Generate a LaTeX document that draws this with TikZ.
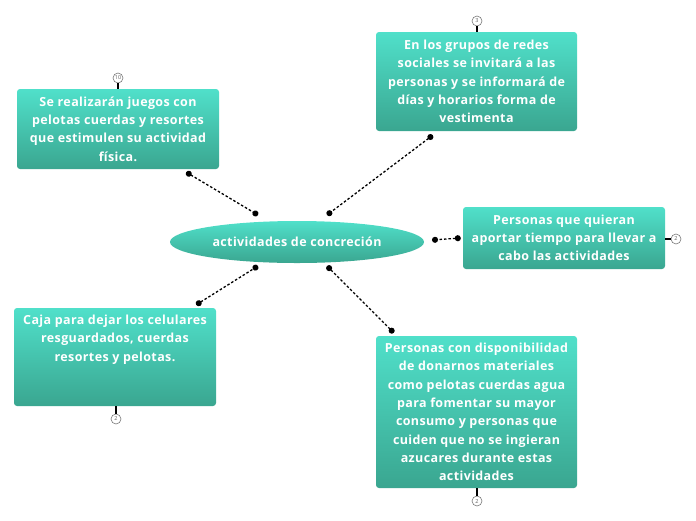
\documentclass[tikz,border=0pt]{standalone}
\usepackage{fontspec}
\setmainfont{Open Sans}
\newfontfamily\topicfont[LetterSpace=3]{Open Sans}
\usetikzlibrary{arrows.meta,positioning,shapes.geometric}
\definecolor{tealtop}{RGB}{80,224,202}
\definecolor{tealbot}{RGB}{58,166,144}
\definecolor{pin}{RGB}{120,120,120}
\tikzset{
  topictext/.style={text=white,font=\topicfont\fontsize{12.5}{18.3}\selectfont\bfseries,align=center,inner sep=0pt},
  topic/.style={topictext,rounded corners=3pt,top color=tealtop,bottom color=tealbot,draw=none},
  link/.style={dash pattern=on 2.5pt off 2pt,line width=1.3pt,{Circle[length=6pt]}-{Circle[length=6pt]}},
  tag/.style={circle,draw=pin,fill=white,line width=0.6pt,minimum size=10pt,inner sep=0pt,
    font=\fontsize{5.5}{6}\selectfont,text=pin!80!black}
}
\begin{document}
\begin{tikzpicture}[x=1pt,y=-1pt]
  \useasboundingbox (0,0) rectangle (696,520);
  % central topic
  \node[topic,ellipse,minimum width=254pt,minimum height=42pt] (centro) at (297,242) {actividades de concreción};
  % subtopics
  \node[topic,minimum width=202pt,minimum height=80pt] (juegos) at (118,129)
    {Se realizarán juegos con\\ pelotas cuerdas y resortes\\ que estimulen su actividad\\ física.};
  \node[topic,minimum width=201pt,minimum height=99pt] (redes) at (476.5,81.5)
    {En los grupos de redes\\ sociales se invitará a las\\ personas y se informará de\\ días y horarios forma de\\ vestimenta};
  \node[topic,minimum width=202pt,minimum height=62pt] (tiempo) at (564,238)
    {Personas que quieran\\ aportar tiempo para llevar a\\ cabo las actividades};
  \node[topic,minimum width=202pt,minimum height=98pt] (caja) at (115,357) {};
  \node[topictext,below=7pt of caja.north] (cajatexto)
    {Caja para dejar los celulares\\ resguardados, cuerdas\\ resortes y pelotas.};
  \node[topic,minimum width=201pt,minimum height=152pt] (donar) at (476.5,412)
    {Personas con disponibilidad\\ de donarnos materiales\\ como pelotas cuerdas agua\\ para fomentar su mayor\\ consumo y personas que\\ cuiden que no se ingieran\\ azucares durante estas\\ actividades};
  % connectors
  \draw[link] ([shift={(-33,3)}]juegos.south east) -- ([shift={(-39,-27)}]centro.center);
  \draw[link] ([shift={(57,4)}]redes.south west) -- ([shift={(30,-27)}]centro.center);
  \draw[link] ([shift={(-2,0)}]tiempo.west) -- ([shift={(135,-2)}]centro.center);
  \draw[link] ([shift={(-20,-3)}]caja.north east) -- ([shift={(-39,24)}]centro.center);
  \draw[link] ([shift={(18,-3)}]donar.north west) -- ([shift={(30,24)}]centro.center);
  % number tags
  \node[tag] (t1) at (118,78) {10};
  \node[tag] (t2) at (477,21) {3};
  \node[tag] (t3) at (676,239) {2};
  \node[tag] (t4) at (116,419) {2};
  \node[tag] (t5) at (477,501) {2};
  \draw[line width=1.2pt] (t1) -- (t1 |- juegos.north);
  \draw[line width=1.2pt] (t2) -- (t2 |- redes.north);
  \draw[line width=1.2pt] (t3) -- (t3 -| tiempo.east);
  \draw[line width=1.2pt] (t4) -- (t4 |- caja.south);
  \draw[line width=1.2pt] (t5) -- (t5 |- donar.south);
\end{tikzpicture}
\end{document}
